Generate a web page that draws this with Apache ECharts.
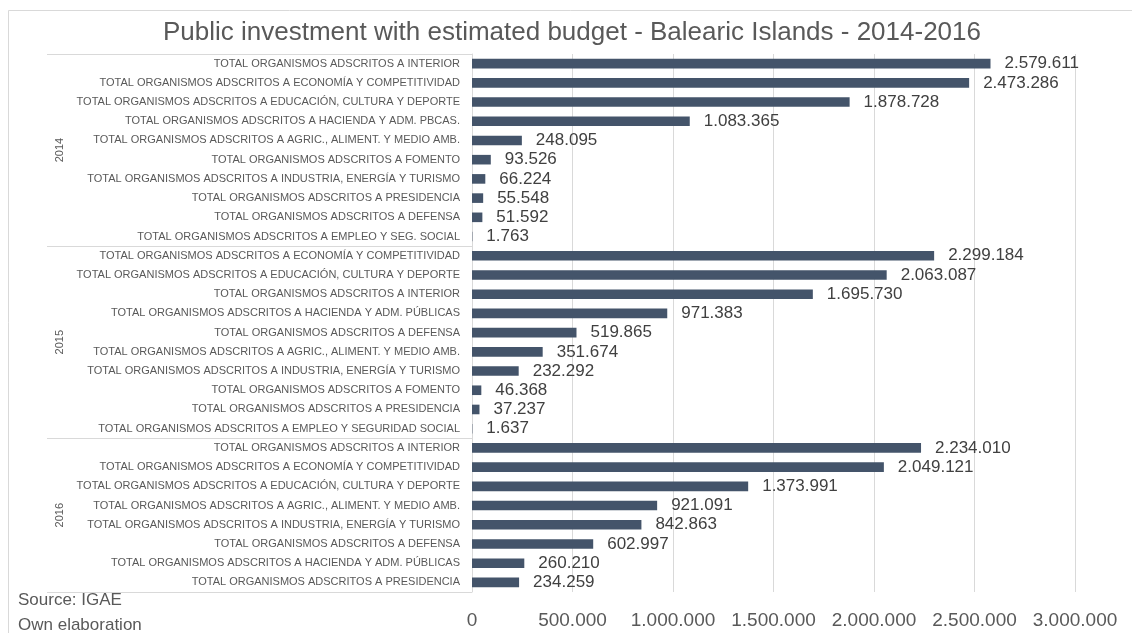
<!DOCTYPE html>
<html>
<head>
<meta charset="utf-8">
<script src="https://cdn.jsdelivr.net/npm/echarts@6/dist/echarts.min.js"></script>
<style>html,body{margin:0;padding:0;background:#fff}#c{width:1132px;height:633px}</style>
</head>
<body>
<div id="c"></div>
<script>
var years = ['2014', '2015', '2016'];
var cats2014 = [
  'TOTAL ORGANISMOS ADSCRITOS A INTERIOR',
  'TOTAL ORGANISMOS ADSCRITOS A ECONOMÍA Y COMPETITIVIDAD',
  'TOTAL ORGANISMOS ADSCRITOS A EDUCACIÓN, CULTURA Y DEPORTE',
  'TOTAL ORGANISMOS ADSCRITOS A HACIENDA Y ADM. PBCAS.',
  'TOTAL ORGANISMOS ADSCRITOS A AGRIC., ALIMENT. Y MEDIO AMB.',
  'TOTAL ORGANISMOS ADSCRITOS A FOMENTO',
  'TOTAL ORGANISMOS ADSCRITOS A INDUSTRIA, ENERGÍA Y TURISMO',
  'TOTAL ORGANISMOS ADSCRITOS A PRESIDENCIA',
  'TOTAL ORGANISMOS ADSCRITOS A DEFENSA',
  'TOTAL ORGANISMOS ADSCRITOS A EMPLEO Y SEG. SOCIAL'
];
var vals2014 = [2579611, 2473286, 1878728, 1083365, 248095, 93526, 66224, 55548, 51592, 1763];
var cats2015 = [
  'TOTAL ORGANISMOS ADSCRITOS A ECONOMÍA Y COMPETITIVIDAD',
  'TOTAL ORGANISMOS ADSCRITOS A EDUCACIÓN, CULTURA Y DEPORTE',
  'TOTAL ORGANISMOS ADSCRITOS A INTERIOR',
  'TOTAL ORGANISMOS ADSCRITOS A HACIENDA Y ADM. PÚBLICAS',
  'TOTAL ORGANISMOS ADSCRITOS A DEFENSA',
  'TOTAL ORGANISMOS ADSCRITOS A AGRIC., ALIMENT. Y MEDIO AMB.',
  'TOTAL ORGANISMOS ADSCRITOS A INDUSTRIA, ENERGÍA Y TURISMO',
  'TOTAL ORGANISMOS ADSCRITOS A FOMENTO',
  'TOTAL ORGANISMOS ADSCRITOS A PRESIDENCIA',
  'TOTAL ORGANISMOS ADSCRITOS A EMPLEO Y SEGURIDAD SOCIAL'
];
var vals2015 = [2299184, 2063087, 1695730, 971383, 519865, 351674, 232292, 46368, 37237, 1637];
var cats2016 = [
  'TOTAL ORGANISMOS ADSCRITOS A INTERIOR',
  'TOTAL ORGANISMOS ADSCRITOS A ECONOMÍA Y COMPETITIVIDAD',
  'TOTAL ORGANISMOS ADSCRITOS A EDUCACIÓN, CULTURA Y DEPORTE',
  'TOTAL ORGANISMOS ADSCRITOS A AGRIC., ALIMENT. Y MEDIO AMB.',
  'TOTAL ORGANISMOS ADSCRITOS A INDUSTRIA, ENERGÍA Y TURISMO',
  'TOTAL ORGANISMOS ADSCRITOS A DEFENSA',
  'TOTAL ORGANISMOS ADSCRITOS A HACIENDA Y ADM. PÚBLICAS',
  'TOTAL ORGANISMOS ADSCRITOS A PRESIDENCIA'
];
var vals2016 = [2234010, 2049121, 1373991, 921091, 842863, 602997, 260210, 234259];

var groupCats = [cats2014, cats2015, cats2016];
var groupVals = [vals2014, vals2015, vals2016];
var categories = [].concat.apply([], groupCats);
var values = [].concat.apply([], groupVals);

// group boundaries and centers (in category units)
var bounds = [0], centers = [];
groupCats.forEach(function (g) {
  var s = bounds[bounds.length - 1];
  centers.push(s + g.length / 2);
  bounds.push(s + g.length);
});

function fmt(v) {
  return String(Math.round(v)).replace(/\B(?=(\d{3})+(?!\d))/g, '.');
}

var FONT = 'Liberation Sans';
var chart = echarts.init(document.getElementById('c'));
chart.setOption({
  backgroundColor: '#ffffff',
  animation: false,
  textStyle: { fontFamily: FONT },
  title: [{
    text: 'Public investment with estimated budget - Balearic Islands - 2014-2016',
    left: 572, top: 20, textAlign: 'center', padding: 0,
    textStyle: { fontFamily: FONT, fontSize: 26, fontWeight: 'normal', color: '#595959' }
  }, {
    text: 'Source: IGAE\nOwn elaboration',
    left: 18, top: 588, padding: 0,
    textStyle: { fontFamily: FONT, fontSize: 17, fontWeight: 'normal', color: '#595959', lineHeight: 25 }
  }],
  graphic: [{
    type: 'rect', silent: true,
    shape: { x: 8.5, y: 10.5, width: 1300, height: 700 },
    style: { fill: 'none', stroke: '#d9d9d9', lineWidth: 1 }
  }],
  grid: { left: 472, right: 57, top: 54, bottom: 41, containLabel: false },
  xAxis: {
    type: 'value', min: 0, max: 3000000, interval: 500000,
    axisLine: { show: false }, axisTick: { show: false },
    splitLine: { lineStyle: { color: '#d9d9d9', width: 1 } },
    axisLabel: { fontFamily: FONT, fontSize: 19, color: '#595959', margin: 19,
      formatter: function (v) { return fmt(v); } }
  },
  yAxis: [{
    type: 'category', inverse: true, data: categories,
    axisLine: { show: true, lineStyle: { color: '#d9d9d9' } },
    axisTick: { show: false },
    axisLabel: { fontFamily: FONT, fontSize: 11, color: '#595959', margin: 12, interval: 0 }
  }, {
    type: 'value', inverse: true, min: 0, max: categories.length, position: 'left',
    axisLine: { show: false },
    splitLine: { show: false },
    axisTick: { show: true, customValues: bounds, length: 425, lineStyle: { color: '#d9d9d9', width: 1 } },
    axisLabel: { show: true, customValues: centers, rotate: 90, margin: 407,
      fontFamily: FONT, fontSize: 11, color: '#595959',
      formatter: function (v) {
        var i = centers.indexOf(v);
        return i >= 0 ? years[i] : '';
      } }
  }],
  series: [{
    type: 'bar', yAxisIndex: 0, data: values, barWidth: '50%',
    itemStyle: { color: '#44546a' },
    label: { show: true, position: 'right', distance: 14, fontFamily: FONT, fontSize: 17, color: '#404040',
      formatter: function (p) { return fmt(p.value); } }
  }]
});
</script>
</body>
</html>
